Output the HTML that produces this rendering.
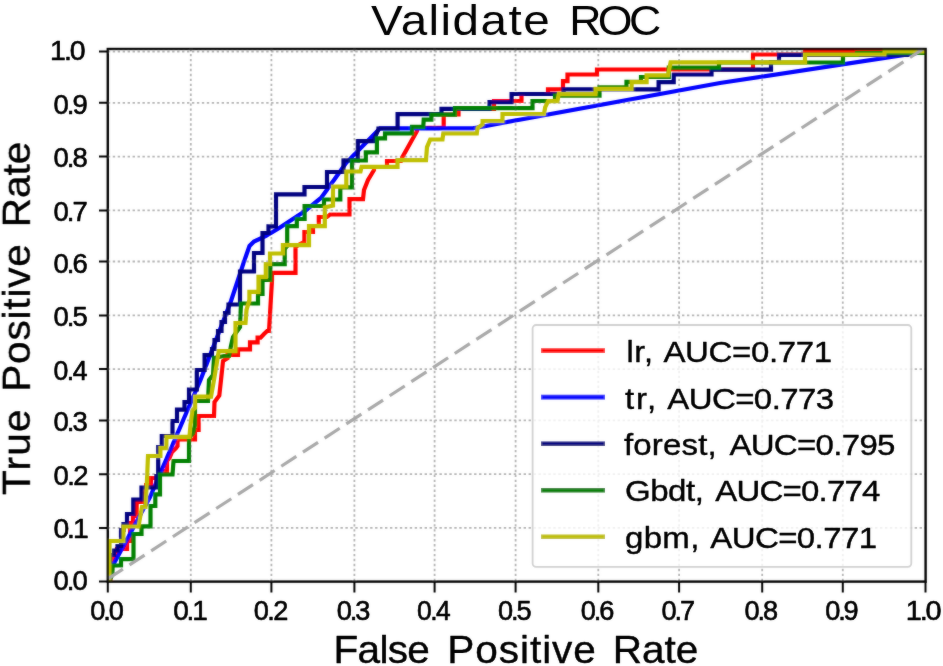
<!DOCTYPE html>
<html><head><meta charset="utf-8"><title>Validate ROC</title>
<style>
html,body{margin:0;padding:0;background:#fff;width:943px;height:666px;overflow:hidden}
svg{display:block}
text{font-family:"Liberation Sans", sans-serif;fill:#000;stroke-linejoin:round}
</style></head><body>
<svg width="943" height="666" viewBox="0 0 943 666">
<rect x="0" y="0" width="943" height="666" fill="#fff"/>
<defs><clipPath id="ax"><rect x="107.8" y="49.0" width="817.8000000000001" height="532.6"/></clipPath><filter id="soft" x="0" y="0" width="100%" height="100%" filterUnits="userSpaceOnUse"><feGaussianBlur in="SourceGraphic" stdDeviation="1" result="b"/><feComposite in="SourceGraphic" in2="b" operator="arithmetic" k1="0" k2="0.65" k3="0.35" k4="0"/></filter><filter id="softt" x="0" y="0" width="100%" height="100%" filterUnits="userSpaceOnUse"><feGaussianBlur in="SourceGraphic" stdDeviation="1" result="b"/><feComposite in="SourceGraphic" in2="b" operator="arithmetic" k1="0" k2="0.8" k3="0.2" k4="0"/></filter></defs>
<g filter="url(#soft)">
<path d="M190.80,49.0V581.6M271.40,49.0V581.6M354.40,49.0V581.6M434.60,49.0V581.6M515.60,49.0V581.6M598.30,49.0V581.6M679.10,49.0V581.6M762.20,49.0V581.6M842.80,49.0V581.6M107.8,527.90H925.6M107.8,474.20H925.6M107.8,420.45H925.6M107.8,369.10H925.6M107.8,315.45H925.6M107.8,261.50H925.6M107.8,210.45H925.6M107.8,156.60H925.6M107.8,102.84H925.6M107.8,51.60H925.6" stroke="#b2b2b2" stroke-width="1.8" stroke-dasharray="2.4 2.55" fill="none"/>
<g clip-path="url(#ax)" fill="none" stroke-width="4.20" stroke-linejoin="miter" stroke-linecap="butt">
<polyline points="108.0,582.0 110.5,582.0 110.5,563.0 113.0,563.0 113.0,556.0 117.0,556.0 117.0,549.0 127.0,549.0 127.0,541.0 130.0,541.0 130.0,523.0 133.0,523.0 133.0,516.0 136.7,516.0 136.7,502.0 144.0,502.0 146.0,485.0 151.0,485.0 151.0,478.0 158.0,478.0 160.0,471.0 167.0,471.0 167.0,461.0 169.5,458.0 172.0,452.0 176.0,448.0 177.5,446.0 177.5,439.5 195.0,439.5 195.0,430.0 198.6,430.0 198.6,416.0 214.0,416.0 214.5,401.9 219.3,395.4 221.0,380.0 223.0,361.0 227.6,358.0 227.6,355.0 238.0,355.0 238.0,349.3 250.0,349.3 250.0,342.3 257.6,342.3 257.6,337.6 260.6,337.6 264.0,334.0 267.1,331.0 269.0,331.0 272.0,280.0 272.0,272.8 295.5,272.8 295.5,247.0 300.0,244.0 304.4,242.0 304.4,232.0 313.0,232.0 313.0,226.0 318.8,226.0 318.8,217.0 327.0,217.0 330.0,214.5 349.5,214.5 349.5,199.2 363.0,199.2 364.0,190.0 368.0,180.0 371.0,175.0 374.0,170.0 374.0,167.0 387.0,167.0 387.0,161.0 401.0,161.0 402.5,157.0 417.0,131.0 417.0,127.8 443.7,127.8 443.7,114.5 458.5,114.5 458.5,109.0 494.0,109.0 494.0,101.0 521.5,101.0 521.5,94.0 548.0,94.0 548.0,89.4 563.0,89.4 563.0,81.2 567.5,81.2 567.5,74.5 597.0,74.5 597.0,69.5 753.0,69.5 753.0,54.5 805.0,54.5 805.0,51.4 926.0,51.4" stroke="#ff0000"/>
<polyline points="108.0,582.0 112.0,567.0 150.0,497.0 200.5,380.0 231.0,301.0 244.0,261.6 249.5,246.0 254.0,241.5 266.0,236.0 280.0,227.5 305.0,211.0 321.0,198.0 334.0,180.0 346.0,163.0 380.0,128.3 473.0,128.3 720.0,83.0 926.0,51.6" stroke="#0000ff"/>
<polyline points="108.0,582.0 110.0,582.0 110.0,555.0 114.0,555.0 114.0,550.5 117.5,550.5 117.5,546.0 121.0,546.0 121.0,530.0 123.5,530.0 123.5,524.0 127.0,524.0 127.0,514.0 133.3,514.0 133.3,514.0 133.3,499.5 141.5,499.5 141.5,487.5 156.3,487.5 156.3,476.0 158.2,476.0 158.2,447.0 161.8,447.0 161.8,436.0 172.5,436.0 172.5,421.0 177.0,421.0 177.0,409.6 184.5,409.6 184.5,402.0 189.0,402.0 189.0,389.5 196.8,389.5 196.8,370.0 204.6,370.0 204.6,355.2 212.0,355.2 212.0,349.0 214.5,349.0 214.5,340.0 218.0,340.0 218.0,331.0 221.5,331.0 221.5,322.0 225.0,322.0 225.0,313.0 228.5,313.0 228.5,304.5 240.0,304.5 240.0,271.5 254.0,271.5 254.0,253.0 262.5,253.0 262.5,233.0 268.5,233.0 268.5,226.4 276.0,226.4 276.0,194.3 304.5,194.3 304.5,187.0 327.0,187.0 327.0,172.0 343.5,172.0 343.5,160.3 357.8,160.3 357.8,141.2 373.4,141.2 378.5,129.0 378.5,128.5 397.6,128.5 397.6,114.2 441.5,114.2 441.5,108.9 489.5,108.9 489.5,102.1 511.6,102.1 511.6,94.0 563.6,94.0 563.6,89.3 658.6,89.3 658.6,82.1 673.7,82.1 673.7,74.5 711.5,74.5 711.5,69.6 771.0,69.6 771.0,62.0 779.0,62.0 779.0,54.8 907.5,54.8 907.5,51.6 926.0,51.6" stroke="#000080"/>
<polyline points="108.0,582.0 112.5,575.0 112.5,565.5 121.0,565.5 121.0,559.2 133.5,559.2 133.5,534.0 141.5,534.0 141.5,526.4 150.5,526.4 150.5,506.0 155.3,506.0 155.3,494.3 160.0,494.3 160.0,474.5 172.5,474.5 173.5,461.0 189.0,461.0 189.0,438.0 193.0,433.0 195.0,425.0 195.0,401.0 208.0,401.0 209.0,380.0 213.0,375.0 214.0,358.0 224.0,356.0 229.0,356.0 231.0,346.0 233.0,337.0 240.0,327.0 241.0,303.5 258.0,303.5 258.0,294.0 262.5,294.0 262.5,280.0 270.3,280.0 270.3,264.2 284.7,264.2 284.7,249.0 287.2,246.0 287.2,226.2 296.8,226.2 296.8,219.0 304.6,219.0 304.6,206.0 324.0,206.0 324.0,199.5 340.3,199.5 340.3,187.3 352.0,187.3 352.0,160.5 365.8,160.5 365.8,152.4 376.9,152.4 376.9,138.3 385.0,138.3 385.0,133.3 412.0,133.3 412.0,126.8 423.3,126.8 423.7,119.7 431.4,119.7 431.4,114.6 455.0,114.6 455.0,108.2 532.5,108.2 532.5,101.0 555.0,101.0 555.0,95.6 599.5,95.6 599.5,87.3 626.5,87.3 626.5,81.8 641.0,81.8 641.0,77.0 668.8,77.0 668.8,67.6 719.0,67.6 719.0,62.5 843.0,62.5 843.0,55.0 857.0,55.0 857.0,53.0 926.0,53.0" stroke="#008000"/>
<polyline points="109.5,582.0 109.5,541.0 123.5,541.0 123.5,526.5 138.5,526.5 140.0,518.0 142.0,507.0 145.5,507.0 147.0,480.0 148.0,456.0 160.4,456.0 160.4,448.2 166.4,448.2 166.4,436.8 189.5,436.8 190.5,425.0 192.5,410.0 195.0,408.0 195.0,396.7 211.0,396.7 214.0,380.0 216.5,365.0 218.7,351.2 235.5,351.2 235.5,323.0 245.5,323.0 246.5,310.0 249.4,300.0 249.4,291.8 258.5,291.8 258.5,276.8 265.8,276.8 265.8,264.0 270.0,264.0 270.0,253.5 282.9,253.5 282.9,245.2 309.0,245.2 309.0,226.2 324.8,226.2 324.8,207.5 333.0,205.5 333.0,186.6 346.3,186.6 346.3,171.5 360.5,171.5 361.6,166.8 397.5,166.8 397.5,160.2 426.0,160.2 427.0,147.1 430.2,139.5 442.5,139.5 443.3,133.3 476.8,133.3 477.5,128.0 482.6,124.5 482.6,121.0 502.5,121.0 502.5,114.0 544.0,114.0 545.2,107.1 548.2,101.1 557.5,101.1 558.7,94.2 595.5,94.2 595.5,88.8 631.6,88.8 631.6,82.1 646.6,82.1 646.6,75.3 668.0,75.3 670.6,62.3 805.0,62.3 805.0,54.5 884.5,54.5 884.5,51.3 926.0,51.3" stroke="#bfbf00"/>
<line x1="107.8" y1="579.0" x2="925.6" y2="47.4" stroke="#a8a8a8" stroke-width="3.2" stroke-dasharray="18.0 7.86" stroke-dashoffset="0"/>
</g>
<rect x="107.8" y="49.0" width="817.8000000000001" height="532.6" fill="none" stroke="#000" stroke-width="2.4"/>
<path d="M107.80,581.6v10.8M190.80,581.6v10.8M271.40,581.6v10.8M354.40,581.6v10.8M434.60,581.6v10.8M515.60,581.6v10.8M598.30,581.6v10.8M679.10,581.6v10.8M762.20,581.6v10.8M842.80,581.6v10.8M925.50,581.6v10.8M107.8,581.60h-8.8M107.8,527.90h-8.8M107.8,474.20h-8.8M107.8,420.45h-8.8M107.8,369.10h-8.8M107.8,315.45h-8.8M107.8,261.50h-8.8M107.8,210.45h-8.8M107.8,156.60h-8.8M107.8,102.84h-8.8M107.8,51.60h-8.8" stroke="#000" stroke-width="2.0" fill="none"/>
</g>
<g filter="url(#softt)">
<text transform="scale(0.9882,1)" x="91.27" y="619.60" font-size="27.5" textLength="33.97" lengthAdjust="spacing" stroke="#000" stroke-width="0.6">0.0</text>
<text transform="scale(1.0182,1)" x="170.11" y="619.60" font-size="27.5" textLength="33.98" lengthAdjust="spacing" stroke="#000" stroke-width="0.6">0.1</text>
<text transform="scale(0.9882,1)" x="256.82" y="619.60" font-size="27.5" textLength="34.98" lengthAdjust="spacing" stroke="#000" stroke-width="0.6">0.2</text>
<text transform="scale(0.9882,1)" x="340.81" y="619.60" font-size="27.5" textLength="33.97" lengthAdjust="spacing" stroke="#000" stroke-width="0.6">0.3</text>
<text transform="scale(0.96,1)" x="434.38" y="619.60" font-size="27.5" textLength="35.00" lengthAdjust="spacing" stroke="#000" stroke-width="0.6">0.4</text>
<text transform="scale(0.9882,1)" x="503.93" y="619.60" font-size="27.5" textLength="33.97" lengthAdjust="spacing" stroke="#000" stroke-width="0.6">0.5</text>
<text transform="scale(0.9882,1)" x="587.61" y="619.60" font-size="27.5" textLength="33.97" lengthAdjust="spacing" stroke="#000" stroke-width="0.6">0.6</text>
<text transform="scale(0.9882,1)" x="669.38" y="619.60" font-size="27.5" textLength="33.97" lengthAdjust="spacing" stroke="#000" stroke-width="0.6">0.7</text>
<text transform="scale(0.9882,1)" x="753.46" y="619.60" font-size="27.5" textLength="33.97" lengthAdjust="spacing" stroke="#000" stroke-width="0.6">0.8</text>
<text transform="scale(0.9882,1)" x="835.02" y="619.60" font-size="27.5" textLength="33.97" lengthAdjust="spacing" stroke="#000" stroke-width="0.6">0.9</text>
<text transform="scale(1.05,1)" x="862.67" y="619.60" font-size="27.5" textLength="33.99" lengthAdjust="spacing" stroke="#000" stroke-width="0.6">1.0</text>
<text transform="scale(0.9971,1)" x="53.56" y="590.20" font-size="27.5" textLength="34.38" lengthAdjust="spacing" stroke="#000" stroke-width="0.6">0.0</text>
<text transform="scale(1.0273,1)" x="51.98" y="538.10" font-size="27.5" textLength="34.38" lengthAdjust="spacing" stroke="#000" stroke-width="0.6">0.1</text>
<text transform="scale(0.9971,1)" x="53.56" y="484.90" font-size="27.5" textLength="35.28" lengthAdjust="spacing" stroke="#000" stroke-width="0.6">0.2</text>
<text transform="scale(0.9971,1)" x="53.56" y="431.45" font-size="27.5" textLength="34.38" lengthAdjust="spacing" stroke="#000" stroke-width="0.6">0.3</text>
<text transform="scale(0.9686,1)" x="55.13" y="380.00" font-size="27.5" textLength="35.30" lengthAdjust="spacing" stroke="#000" stroke-width="0.6">0.4</text>
<text transform="scale(0.9971,1)" x="53.56" y="326.05" font-size="27.5" textLength="34.38" lengthAdjust="spacing" stroke="#000" stroke-width="0.6">0.5</text>
<text transform="scale(0.9971,1)" x="53.56" y="272.70" font-size="27.5" textLength="34.38" lengthAdjust="spacing" stroke="#000" stroke-width="0.6">0.6</text>
<text transform="scale(0.9971,1)" x="53.56" y="221.15" font-size="27.5" textLength="34.38" lengthAdjust="spacing" stroke="#000" stroke-width="0.6">0.7</text>
<text transform="scale(0.9971,1)" x="53.56" y="167.30" font-size="27.5" textLength="34.38" lengthAdjust="spacing" stroke="#000" stroke-width="0.6">0.8</text>
<text transform="scale(0.9971,1)" x="53.56" y="113.94" font-size="27.5" textLength="34.38" lengthAdjust="spacing" stroke="#000" stroke-width="0.6">0.9</text>
<text transform="scale(1.0344,1)" x="48.47" y="60.10" font-size="27.5" textLength="34.38" lengthAdjust="spacing" stroke="#000" stroke-width="0.6">1.0</text>
<text transform="scale(1.12,1)" x="331.25" y="34.90" font-size="42.5" textLength="159.48" lengthAdjust="spacing">Validate</text>
<text transform="scale(1.0529,1)" x="540.63" y="34.90" font-size="42.5" textLength="87.39" lengthAdjust="spacing">ROC</text>
<text transform="scale(1.06,1)" x="314.66" y="662.60" font-size="38.3" textLength="90.96" lengthAdjust="spacing" stroke="#000" stroke-width="0.4">False</text>
<text transform="scale(1.06,1)" x="422.02" y="662.60" font-size="38.3" textLength="140.10" lengthAdjust="spacing" stroke="#000" stroke-width="0.4">Positive</text>
<text transform="scale(1.06,1)" x="578.06" y="662.60" font-size="38.3" textLength="80.80" lengthAdjust="spacing" stroke="#000" stroke-width="0.4">Rate</text>
<g transform="translate(29.8,0) rotate(-90)">
<text transform="scale(1.06,1)" x="-467.07" y="0.00" font-size="38.3" textLength="80.81" lengthAdjust="spacing" stroke="#000" stroke-width="0.4">True</text>
<text transform="scale(1.06,1)" x="-369.58" y="0.00" font-size="38.3" textLength="139.24" lengthAdjust="spacing" stroke="#000" stroke-width="0.4">Positive</text>
<text transform="scale(1.06,1)" x="-214.30" y="0.00" font-size="38.3" textLength="80.70" lengthAdjust="spacing" stroke="#000" stroke-width="0.4">Rate</text>
</g>
</g>
<g filter="url(#soft)">
<rect x="532.6" y="325.0" width="378.7" height="241.8" rx="3.5" ry="3.5" fill="#fff" fill-opacity="0.8" stroke="#d0d0d0" stroke-width="1.8"/>
<line x1="541" y1="350.60" x2="605" y2="350.60" stroke="#ff0000" stroke-width="4.6"/>
<line x1="541" y1="397.15" x2="605" y2="397.15" stroke="#0000ff" stroke-width="4.6"/>
<line x1="541" y1="443.70" x2="605" y2="443.70" stroke="#000080" stroke-width="4.6"/>
<line x1="541" y1="490.25" x2="605" y2="490.25" stroke="#008000" stroke-width="4.6"/>
<line x1="541" y1="536.80" x2="605" y2="536.80" stroke="#bfbf00" stroke-width="4.6"/>
</g>
<g filter="url(#softt)">
<text transform="scale(1.0826,1)" x="578.60" y="362.40" font-size="30.0" textLength="24.62" lengthAdjust="spacing" stroke="#000" stroke-width="0.4">lr,</text>
<text transform="scale(1.1,1)" x="603.09" y="362.40" font-size="30.0" textLength="153.38" lengthAdjust="spacing" stroke="#000" stroke-width="0.4">AUC=0.771</text>
<text transform="scale(1.1,1)" x="568.27" y="409.00" font-size="30.0" textLength="28.29" lengthAdjust="spacing" stroke="#000" stroke-width="0.4">tr,</text>
<text transform="scale(1.1,1)" x="606.54" y="409.00" font-size="30.0" textLength="151.79" lengthAdjust="spacing" stroke="#000" stroke-width="0.4">AUC=0.773</text>
<text transform="scale(1.1,1)" x="567.27" y="455.40" font-size="30.0" textLength="84.25" lengthAdjust="spacing" stroke="#000" stroke-width="0.4">forest,</text>
<text transform="scale(1.1,1)" x="663.09" y="455.40" font-size="30.0" textLength="150.97" lengthAdjust="spacing" stroke="#000" stroke-width="0.4">AUC=0.795</text>
<text transform="scale(1.1,1)" x="568.18" y="501.40" font-size="30.0" textLength="71.65" lengthAdjust="spacing" stroke="#000" stroke-width="0.4">Gbdt,</text>
<text transform="scale(1.1,1)" x="650.18" y="501.40" font-size="30.0" textLength="150.22" lengthAdjust="spacing" stroke="#000" stroke-width="0.4">AUC=0.774</text>
<text transform="scale(1.1,1)" x="568.18" y="547.60" font-size="30.0" textLength="67.57" lengthAdjust="spacing" stroke="#000" stroke-width="0.4">gbm,</text>
<text transform="scale(1.1,1)" x="645.64" y="547.60" font-size="30.0" textLength="151.73" lengthAdjust="spacing" stroke="#000" stroke-width="0.4">AUC=0.771</text>
</g>
</svg>
</body></html>
